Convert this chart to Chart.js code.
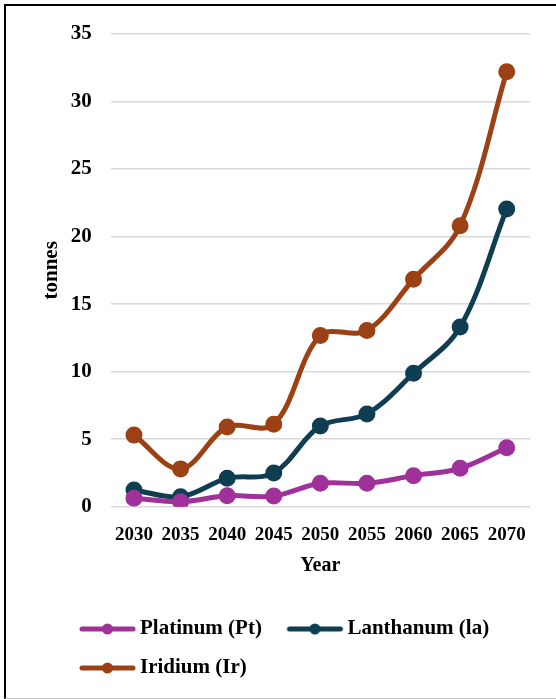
<!DOCTYPE html>
<html>
<head>
<meta charset="utf-8">
<script src="https://cdn.jsdelivr.net/npm/chart.js@4/dist/chart.umd.min.js"></script>
<style>
  html, body { margin: 0; padding: 0; background: #fff; }
  #wrap { position: relative; width: 556px; height: 699px; overflow: hidden; }
  #frame { position: absolute; left: 4px; top: 4px; width: 560px; height: 692px;
           border-left: 2px solid #000; border-top: 2px solid #000; border-bottom: 1px solid #bbb;
           pointer-events: none; }
  canvas { position: absolute; left: 0; top: 0; }
</style>
</head>
<body>
<div id="wrap">
  <canvas id="c" width="556" height="699"></canvas>
  <div id="frame"></div>
</div>
<script>
const years = ['2030', '2035', '2040', '2045', '2050', '2055', '2060', '2065', '2070'];
const platinum = [0.62, 0.37, 0.81, 0.79, 1.73, 1.73, 2.3, 2.84, 4.37];
const lanthanum = [1.24, 0.74, 2.1, 2.5, 5.98, 6.87, 9.88, 13.3, 22.05];
const iridium = [5.3, 2.8, 5.9, 6.1, 12.67, 13.04, 16.84, 20.8, 32.2];
const seriesNames = ['Platinum (Pt)', 'Lanthanum (la)', 'Iridium (Ir)'];
const yTicks = [0, 5, 10, 15, 20, 25, 30, 35];

const colors = ['#A0309A', '#0F3D52', '#9C4114'];
const FONT = '"Liberation Serif", "Times New Roman", serif';

function legendSymbol(color) {
  const cv = document.createElement('canvas');
  cv.width = 80; cv.height = 14;
  const g = cv.getContext('2d');
  g.strokeStyle = color; g.lineWidth = 5; g.lineCap = 'round';
  g.beginPath(); g.moveTo(21, 7); g.lineTo(72, 7); g.stroke();
  g.fillStyle = color;
  g.beginPath(); g.arc(46.5, 7, 5.5, 0, Math.PI * 2); g.fill();
  return cv;
}
const symbols = colors.map(legendSymbol);

function ds(label, data, color) {
  return {
    label, data,
    borderColor: color, backgroundColor: color,
    pointBackgroundColor: color, pointBorderColor: color,
    borderWidth: 5, pointRadius: 6, pointHoverRadius: 6,
    tension: 0.35, fill: false
  };
}

const shiftLegend = {
  id: 'shiftLegend',
  afterLayout(chart) {
    if (chart.legend) { chart.legend.left += 44.5; chart.legend.right += 44.5; }
  }
};

new Chart(document.getElementById('c'), {
  type: 'line',
  data: {
    labels: years,
    datasets: [
      ds(seriesNames[0], platinum, colors[0]),
      ds(seriesNames[1], lanthanum, colors[1]),
      ds(seriesNames[2], iridium, colors[2])
    ]
  },
  options: {
    responsive: false,
    animation: false,
    layout: { padding: { left: 10, right: 26, top: 34, bottom: 10.5 } },
    scales: {
      x: {
        offset: true,
        grid: { display: false, drawTicks: false },
        border: { display: false },
        ticks: { color: '#000', padding: 17, maxRotation: 0, autoSkip: false,
                 font: { family: FONT, size: 19, weight: 'bold' } },
        title: { display: true, text: 'Year', color: '#000',
                 padding: { top: 0, bottom: 23 },
                 font: { family: FONT, size: 20, weight: 'bold' } },
        afterFit(s) { s.height = 93.8; }
      },
      y: {
        min: 0, max: 35,
        afterBuildTicks(s) { s.ticks = yTicks.map(v => ({ value: v })); },
        grid: { color: '#d9d9d9', lineWidth: 1.5, drawTicks: false },
        border: { display: false },
        ticks: { color: '#000', padding: 19,
                 font: { family: FONT, size: 21, weight: 'bold' } },
        title: { display: true, text: 'tonnes', color: '#000',
                 padding: { top: 29.4, bottom: 0 },
                 font: { family: FONT, size: 21, weight: 'bold' } },
        afterFit(s) { s.width = 100.7; }
      }
    },
    plugins: {
      tooltip: { enabled: false },
      legend: {
        position: 'bottom',
        align: 'start',
        labels: {
          color: '#000',
          usePointStyle: true,
          pointStyleWidth: 57,
          padding: 18,
          font: { family: FONT, size: 21, weight: 'bold' },
          generateLabels(chart) {
            const items = Chart.defaults.plugins.legend.labels.generateLabels(chart);
            items.forEach((it, i) => { it.pointStyle = symbols[i]; });
            return items;
          }
        }
      }
    }
  },
  plugins: [shiftLegend]
});
</script>
</body>
</html>
